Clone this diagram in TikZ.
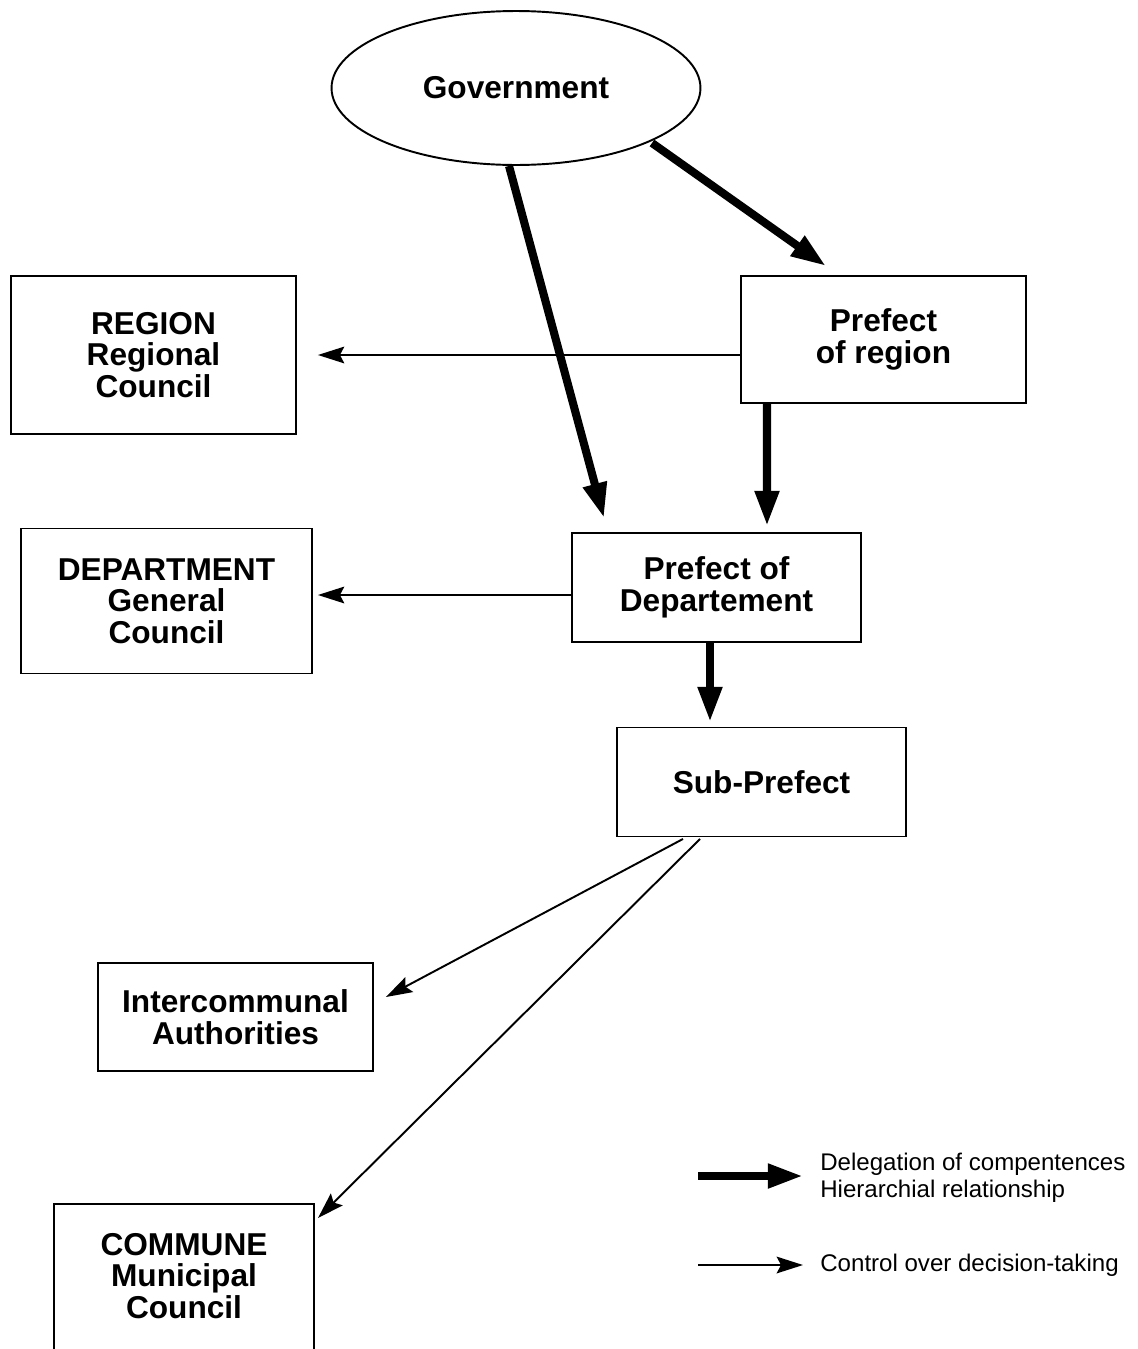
\documentclass[tikz,border=0pt]{standalone}
\usepackage{fontspec}
\setmainfont{Liberation Sans}
\usetikzlibrary{shapes.geometric,arrows.meta,calc}
\begin{document}
\begin{tikzpicture}[x=0.02cm,y=-0.02cm,
  box/.style={draw,line width=1.1pt,rectangle,inner sep=0pt,align=center,
    font=\fontsize{18}{18}\selectfont\bfseries},
  thick arrow/.style={line width=4.6pt,-{Triangle[length=20pt,width=13pt]}},
  thin arrow/.style={line width=1.1pt,-{Stealth[length=15pt,width=9.5pt,inset=2.5pt]}},
  legtext/.style={anchor=west,inner sep=0pt,align=left,font=\fontsize{13.7}{15.4}\selectfont}]
\useasboundingbox (0,0) rectangle (1137,1349);
\clip (0,0) rectangle (1137,1349);
% nodes
\node[box,ellipse,minimum width=7.38cm,minimum height=3.08cm] (gov) at (516,88) {Government};
\node[box,minimum width=5.7cm,minimum height=2.54cm] (prr) at (883.5,339.5) {Prefect\\of region};
\node[box,minimum width=5.7cm,minimum height=3.16cm] (reg) at (153.5,355) {REGION\\Regional\\Council};
\node[box,minimum width=5.78cm,minimum height=2.18cm] (prd) at (716.5,587.5) {Prefect of\\Departement};
\node[box,minimum width=5.82cm,minimum height=2.9cm] (dep) at (166.5,601) {DEPARTMENT\\General\\Council};
\node[box,minimum width=5.78cm,minimum height=2.18cm] (sub) at (761.5,782) {Sub-Prefect};
\node[box,minimum width=5.5cm,minimum height=2.16cm] (inter) at (235.5,1017) {Intercommunal\\Authorities};
\node[box,draw=none] (commune) at (184,1276) {COMMUNE\\Municipal\\Council};
\coordinate (cbl) at (54,1370);
\coordinate (ctl) at (54,1204);
\coordinate (ctr) at (314,1204);
\coordinate (cbr) at (314,1370);
\draw[line width=1.1pt] (cbl) -- (ctl) -- (ctr) -- (cbr);
\coordinate (cin) at (318,1218);
% thick arrows
\draw[thick arrow] ($(gov.center)+(136,55)$) -- ($(prr.north)+(-57.5,-9)$);
\draw[thick arrow] ($(gov.south)+(-7,0)$) -- ($(prd.north)+(-112.5,-14)$);
\draw[thick arrow] ($(prr.south)+(-116.5,0)$) -- ($(prd.north)+(50.5,-6)$);
\draw[thick arrow] ($(prd.south)+(-6.5,0)$) -- ($(sub.north)+(-51.5,-4.5)$);
% thin arrows
\draw[thin arrow] ($(prr.west)+(0,15.5)$) -- ($(reg.east)+(21,0)$);
\draw[thin arrow] ($(prd.west)+(0,7.5)$) -- ($(dep.east)+(5,-6)$);
\draw[thin arrow] ($(sub.south)+(-78.5,1.5)$) -- ($(inter.east)+(12,-20)$);
\draw[thin arrow] ($(sub.south)+(-61.5,1.5)$) -- (cin);
% legend
\coordinate (la) at (698,1176);
\coordinate (lb) at (803,1176);
\coordinate (lc) at (698,1265);
\coordinate (ld) at (803,1265);
\draw[thick arrow] (la) -- (lb);
\draw[thin arrow] (lc) -- (ld);
\node[legtext] (lt1) at (820,1177.5) {Delegation of compentences\\Hierarchial relationship};
\node[legtext] (lt2) at (820,1265) {Control over decision-taking};
\end{tikzpicture}
\end{document}
